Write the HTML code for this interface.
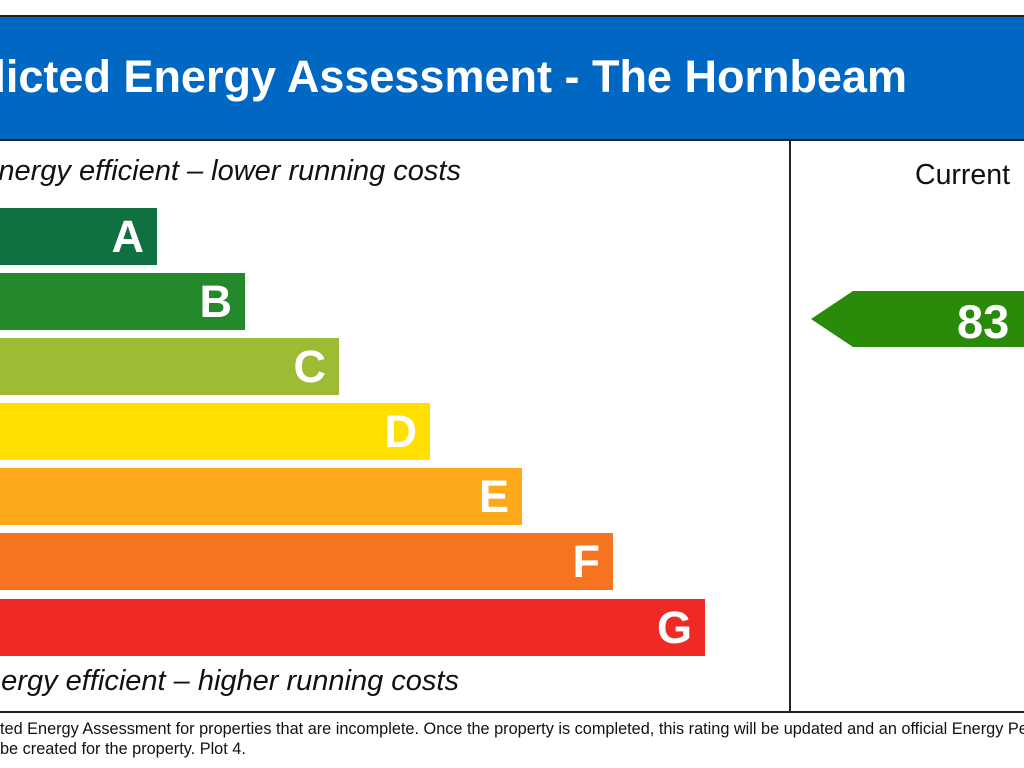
<!DOCTYPE html>
<html><head><meta charset="utf-8"><style>
body{margin:0;width:1024px;height:768px;background:#fff;position:relative;overflow:hidden;font-family:"Liberation Sans",sans-serif}
.a{position:absolute}
.r{position:absolute;white-space:nowrap;text-align:right}
.bar{position:absolute;left:0;height:57px;color:#fff;font-weight:bold;font-size:45px;line-height:57px;text-align:right;box-sizing:border-box;padding-right:13px}
</style></head><body>
<div class="a" style="left:0;top:15px;width:1024px;height:126px;background:#0068c3;border-top:2px solid #222;border-bottom:2px solid #222;box-sizing:border-box"></div>
<div class="r" style="right:117px;top:51px;font-size:45px;font-weight:bold;color:#fff">Predicted Energy Assessment - The Hornbeam</div>
<div class="r" style="right:563px;top:155px;font-size:29px;font-style:italic;color:#111">More energy efficient – lower running costs</div>
<div class="r" style="right:565px;top:665px;font-size:29px;font-style:italic;color:#111">Less energy efficient – higher running costs</div>
<div class="bar" style="top:208px;width:157px;background:#0f7040">A</div>
<div class="bar" style="top:273px;width:245px;background:#23892a">B</div>
<div class="bar" style="top:338px;width:339px;background:#9dbb34">C</div>
<div class="bar" style="top:403px;width:430px;background:#ffe000">D</div>
<div class="bar" style="top:468px;width:522px;background:#fcaa1a">E</div>
<div class="bar" style="top:533px;width:613px;background:#f6741f">F</div>
<div class="bar" style="top:599px;width:705px;background:#ef2a24">G</div>
<div class="a" style="left:789px;top:141px;width:2px;height:571px;background:#222"></div>
<div class="a" style="left:0;top:711px;width:1024px;height:2px;background:#222"></div>
<div class="a" style="left:915px;top:159px;font-size:28.5px;color:#111">Current</div>
<svg class="a" style="left:0;top:0" width="1024" height="768"><polygon points="811,319 853,291 1024,291 1024,347 853,347" fill="#2a8a0a"/></svg>
<div class="a" style="left:957px;top:294px;font-size:47px;font-weight:bold;color:#fff">83</div>
<div class="a" style="left:0;top:720px;font-size:16.3px;color:#111;white-space:nowrap">ted Energy Assessment for properties that are incomplete. Once the property is completed, this rating will be updated and an official Energy Performance Certificate will</div>
<div class="a" style="left:0;top:740px;font-size:16.3px;color:#111;white-space:nowrap">be created for the property. Plot 4.</div>
</body></html>
